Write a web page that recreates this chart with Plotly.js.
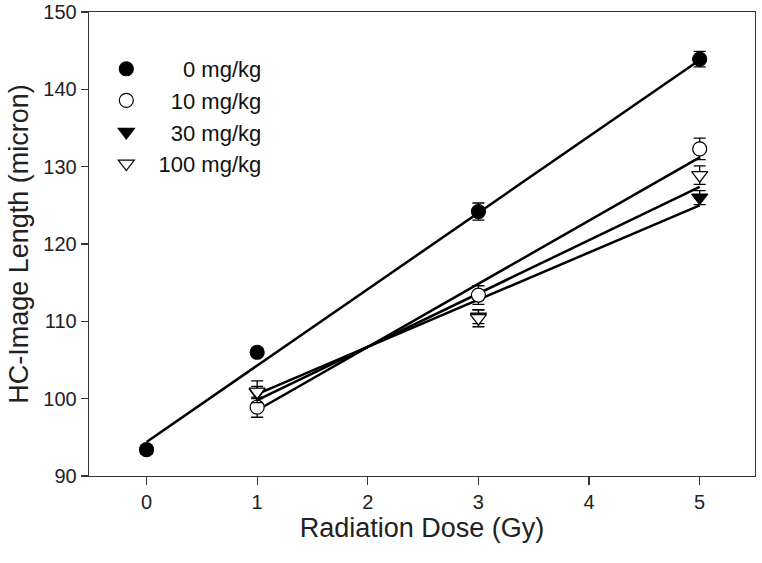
<!DOCTYPE html>
<html>
<head>
<meta charset="utf-8">
<script src="https://cdn.plot.ly/plotly-3.0.1.min.js"></script>
<style>
  html, body { margin: 0; padding: 0; background: #ffffff; }
  #chart { width: 762px; height: 563px; }
</style>
</head>
<body>
<div id="chart"></div>
<script>
// ---- data ----
const seriesNames = ["0 mg/kg", "10 mg/kg", "30 mg/kg", "100 mg/kg"];
const doses0 = [0, 1, 3, 5];
const doses = [1, 3, 5];
const hc0 = [93.4, 106.0, 124.2, 143.9];
const err0 = [0.6, 0.5, 1.1, 1.0];
const hc10 = [98.9, 113.4, 132.3];
const err10 = [1.3, 1.2, 1.4];
const hc30 = [100.8, 110.6, 126.0];
const err30 = [0.8, 0.9, 0.9];
const hc100 = [100.9, 110.4, 128.9];
const err100 = [1.4, 1.1, 1.2];
// regression line end points
const fitX0 = [0, 5];
const fit0 = [94.4, 143.8];
const fitX = [1, 5];
const fit10 = [98.5, 131.2];
const fit30 = [100.6, 125.0];
const fit100 = [99.8, 127.4];
const xTicks = [0, 1, 2, 3, 4, 5];
const yTicks = [90, 100, 110, 120, 130, 140, 150];

const NB = "\u00a0";
function pad(n) { return NB.repeat(n); }
const legendNames = [pad(6) + seriesNames[0], pad(4) + seriesNames[1], pad(4) + seriesNames[2], pad(2) + seriesNames[3]];

function fitLine(x, y) {
  return { x: x, y: y, type: "scatter", mode: "lines", showlegend: false, hoverinfo: "skip",
           line: { color: "#000000", width: 2.5 } };
}
function pts(x, y, e, name, symbol, fill) {
  return { x: x, y: y, type: "scatter", mode: "markers", name: name,
           marker: { symbol: symbol, size: 14, color: fill, line: { color: "#000000", width: 1.2 } },
           error_y: { type: "data", array: e, visible: true, color: "#000000", thickness: 1.3, width: 6 } };
}

const data = [
  fitLine(fitX0, fit0),
  fitLine(fitX, fit10),
  fitLine(fitX, fit30),
  fitLine(fitX, fit100),
  pts(doses0, hc0, err0, legendNames[0], "circle", "#000000"),
  pts(doses, hc10, err10, legendNames[1], "circle", "#ffffff"),
  pts(doses, hc30, err30, legendNames[2], "triangle-down", "#000000"),
  pts(doses, hc100, err100, legendNames[3], "triangle-down", "#ffffff")
];

const FAM = "Liberation Sans, Arial, sans-serif";
const axisFont = { family: FAM, size: 20, color: "#222222" };
const layout = {
  width: 762, height: 563,
  margin: { l: 89, r: 7, t: 12, b: 87 },
  paper_bgcolor: "#ffffff", plot_bgcolor: "#ffffff",
  showlegend: true,
  legend: {
    x: 0.026, y: 0.9225, xanchor: "left", yanchor: "top",
    traceorder: "normal",
    font: { family: FAM, size: 22, color: "#111111" },
    bgcolor: "rgba(0,0,0,0)", borderwidth: 0
  },
  xaxis: {
    range: [-0.52, 5.5], tickvals: xTicks, ticktext: xTicks.map(String),
    showgrid: false, zeroline: false, showline: true, linecolor: "#333333", linewidth: 1.3,
    mirror: true, ticks: "outside", ticklen: 8, tickwidth: 1.3, tickcolor: "#333333",
    tickfont: axisFont,
    title: { text: "Radiation Dose (Gy)", font: { family: FAM, size: 27, color: "#222222" }, standoff: 0 }
  },
  yaxis: {
    range: [90, 150], tickvals: yTicks, ticktext: yTicks.map(String),
    showgrid: false, zeroline: false, showline: true, linecolor: "#333333", linewidth: 1.3,
    mirror: true, ticks: "outside", ticklen: 7, tickwidth: 1.3, tickcolor: "#333333",
    tickfont: axisFont,
    title: { text: "HC-Image Length (micron)", font: { family: FAM, size: 27, color: "#222222" }, standoff: 7 }
  }
};

Plotly.newPlot("chart", data, layout, { displayModeBar: false, staticPlot: true });
</script>
</body>
</html>
